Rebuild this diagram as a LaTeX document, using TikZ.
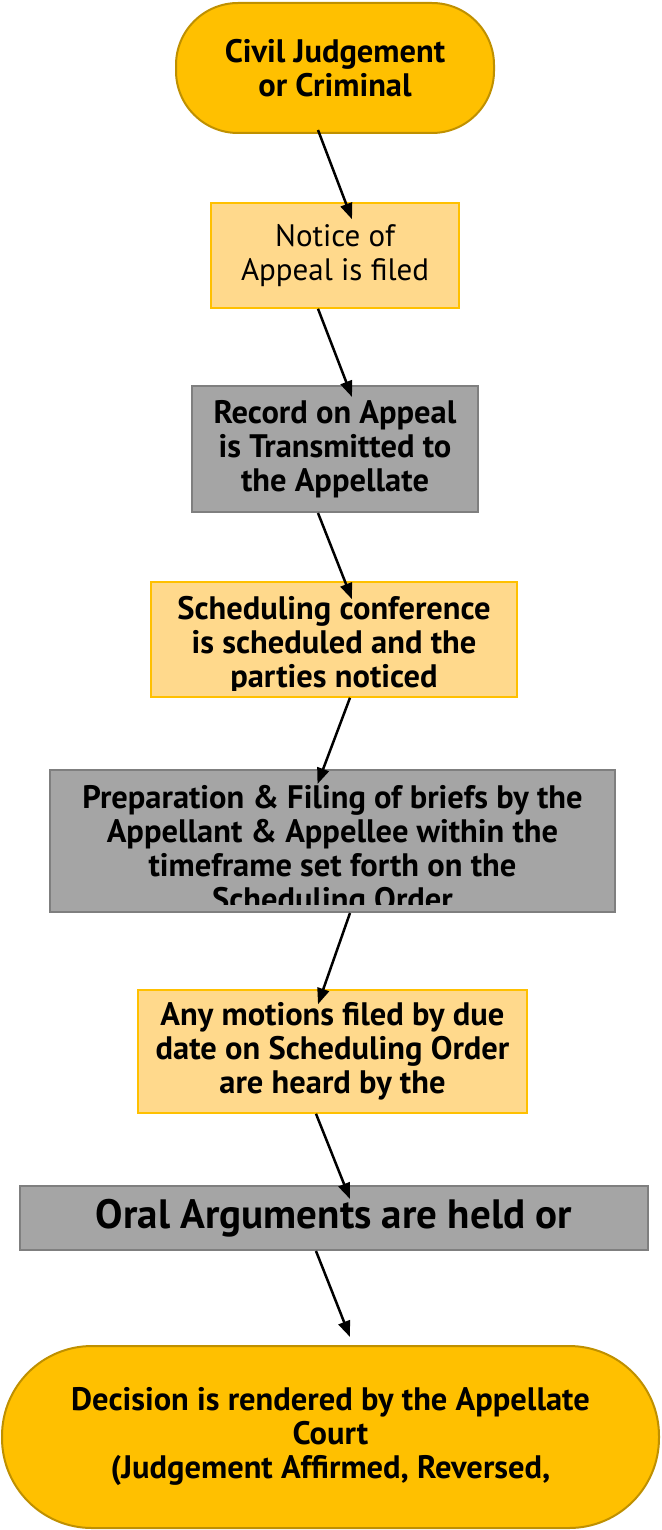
\documentclass[tikz,border=0pt]{standalone}
\usepackage{fontspec}
\setmainfont{PT Sans}
\usepackage{tikz}
\usetikzlibrary{arrows.meta,calc}
\definecolor{AppealGold}{HTML}{FFC000}
\definecolor{AppealGoldLine}{HTML}{BF9000}
\definecolor{AppealLight}{HTML}{FFD98C}
\definecolor{AppealGrey}{HTML}{A5A5A5}
\definecolor{AppealGreyLine}{HTML}{7F7F7F}

\begin{document}
\begin{tikzpicture}[
    x=1pt, y=-1pt,
    every node/.style={align=center, inner sep=0pt, font=\fontsize{31}{34}\selectfont},
    terminal/.style={draw=AppealGoldLine, fill=AppealGold, line width=2pt,
      font=\bfseries\fontsize{32.5}{34}\selectfont},
    lightbox/.style={draw=AppealGold, fill=AppealLight, line width=1.5pt},
    greybox/.style={draw=AppealGreyLine, fill=AppealGrey, line width=2pt,
      font=\bfseries\fontsize{32.5}{34}\selectfont},
    flow/.style={line width=2.5pt, -{Triangle[length=16pt,width=12pt]}}
  ]
    \useasboundingbox (0,0) rectangle (661,1530);

    \node[terminal, minimum width=318pt, minimum height=130pt, rounded corners=62pt]
      (civil) at (335,68) {Civil Judgement\\or Criminal};
    \node[lightbox, minimum width=248pt, minimum height=105pt]
      (notice) at (335,255.5) {Notice of\\Appeal is filed};
    \node[greybox, minimum width=286pt, minimum height=126pt]
      (record) at (335,449) {Record on Appeal\\is Transmitted to\\the Appellate};
    \node[lightbox, minimum width=366pt, minimum height=115pt]
      (sched) at (334,639.5) {};
    \node[greybox, minimum width=565pt, minimum height=142pt]
      (prep) at (332.5,841) {};
    \node[lightbox, minimum width=389pt, minimum height=123pt, font=\bfseries\fontsize{32.5}{34}\selectfont]
      (motion) at (332.5,1051.5) {Any motions filed by due\\date on Scheduling Order\\are heard by the};
    \node[greybox, minimum width=628pt, minimum height=64pt, font=\bfseries\fontsize{41}{44}\selectfont]
      (oral) at (334,1218) {Oral Arguments are held or};
    \node[terminal, minimum width=657pt, minimum height=182pt, rounded corners=90pt]
      (decision) at (330.5,1437) {Decision is rendered by the Appellate\\Court\\(Judgement Affirmed, Reversed,};

    % texts cut off by their boxes
    \begin{scope}
      \clip ($(sched.south west)+(0,-7)$) rectangle (sched.north east);
      \node[font=\bfseries\fontsize{32.5}{34}\selectfont] (schedtext) at (334,645)
        {Scheduling conference\\is scheduled and the\\parties noticed};
    \end{scope}
    \begin{scope}
      \clip ($(prep.south west)+(0,-9)$) rectangle (prep.north east);
      \node[font=\bfseries\fontsize{32.5}{34}\selectfont] (preptext) at (332.5,851)
        {Preparation \& Filing of briefs by the\\Appellant \& Appellee within the\\timeframe set forth on the\\Scheduling Order};
    \end{scope}

    \draw[flow] ($(civil.south)+(-17,-4)$) -- ($(notice.north)+(17,17)$);
    \draw[flow] ($(notice.south)+(-17,0)$) -- ($(record.north)+(17,12)$);
    \draw[flow] ($(record.south)+(-17,0)$) -- ($(sched.north)+(18,18)$);
    \draw[flow] ($(sched.south)+(16,0)$) -- ($(prep.north)+(-15,15)$);
    \draw[flow] ($(prep.south)+(17.5,0)$) -- ($(motion.north)+(-14.5,15)$);
    \draw[flow] ($(motion.south)+(-16.5,0)$) -- ($(oral.north)+(16,14)$);
    \draw[flow] ($(oral.south)+(-18,0)$) -- ($(decision.north)+(19.5,-8)$);
  \end{tikzpicture}
\end{document}
